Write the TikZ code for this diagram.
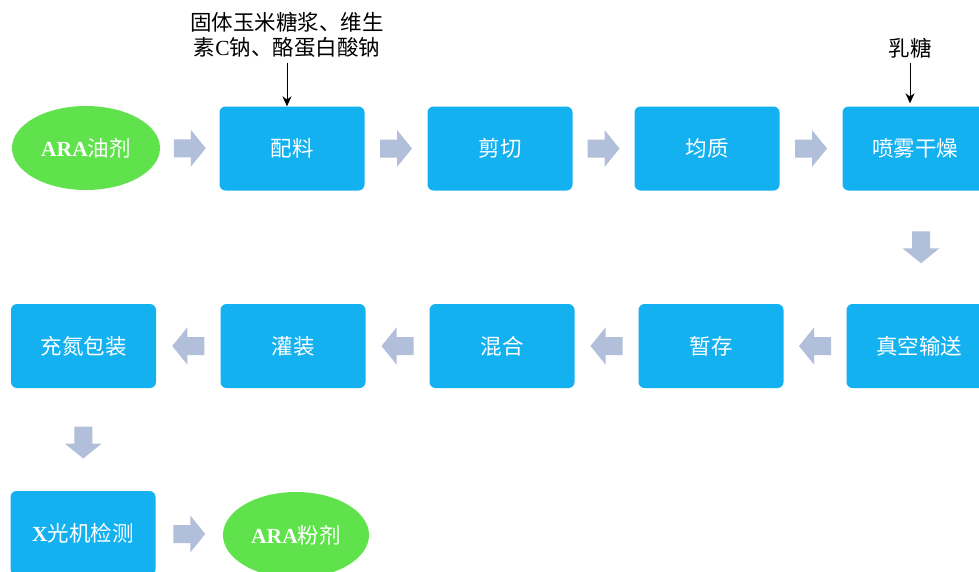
\documentclass[tikz,border=0pt]{standalone}
\usepackage{fontspec}
\setmainfont{Liberation Serif}
\newfontfamily\cjk{Noto Sans CJK SC}
\usetikzlibrary{calc,arrows.meta,shapes.geometric}
\definecolor{boxblue}{HTML}{14B1F1}
\definecolor{ovgreen}{HTML}{5FE24B}
\definecolor{arrgray}{HTML}{B1BFDA}
\tikzset{
  stepbox/.style={rectangle, rounded corners=6pt, fill=boxblue, minimum width=145pt, minimum height=84pt, inner sep=0pt, text=white, font=\cjk\fontsize{21.5}{25}\selectfont},
  oval/.style={ellipse, fill=ovgreen, inner sep=0pt, text=white, font=\cjk\fontsize{21.5}{25}\selectfont},
  note/.style={align=center, text=black, inner sep=0pt, font=\cjk\fontsize{21.5}{25}\selectfont},
  feed/.style={-{Stealth[length=10pt,width=9pt]}, line width=1pt, black},
  pics/barrow/.style={code={
    \fill[arrgray] (-16,-9) -- (1,-9) -- (1,-18.5) -- (16,0) -- (1,18.5) -- (1,9) -- (-16,9) -- cycle;
  }}
}
\begin{document}
\begin{tikzpicture}[x=1pt,y=-1pt]
\clip (0,0) rectangle (979,571);
\fill[white] (0,0) rectangle (979,571);
% row 1
\node[oval, minimum width=148pt, minimum height=84pt] (oil) at (86,148) {{\rmfamily\bfseries ARA}油剂};
\node[stepbox] (peiliao) at (292,148.5) {配料};
\node[stepbox] (jianqie) at (500,148.5) {剪切};
\node[stepbox] (junzhi) at (707,148.5) {均质};
\node[stepbox] (penwu) at (915,148.5) {喷雾干燥};
% row 2
\node[stepbox] (chongdan) at (83.5,346) {充氮包装};
\node[stepbox] (guanzhuang) at (293,346) {灌装};
\node[stepbox] (hunhe) at (502,346) {混合};
\node[stepbox] (zancun) at (711,346) {暂存};
\node[stepbox] (zhenkong) at (919,346) {真空输送};
% row 3
\node[stepbox] (xguang) at (83,533) {{\rmfamily\bfseries X}光机检测};
\node[oval, minimum width=146pt, minimum height=86pt] (powder) at (296,535) {{\rmfamily\bfseries ARA}粉剂};
% top notes
\node[note] (ingr) at (287,35) {固体玉米糖浆、维生\\素{\rmfamily C}钠、酪蛋白酸钠};
\node[note] (lactose) at (910,48) {乳糖};
\draw[feed] ($(ingr.south)+(0,5)$) -- (ingr.south |- peiliao.north);
\draw[feed] ($(lactose.south)+(0,5)$) -- ($(lactose.south |- penwu.north)+(0,-3)$);
% block arrows
\pic at ($(oil.east)!0.5!(peiliao.west)$) {barrow};
\pic at ($(peiliao.east)!0.5!(jianqie.west)$) {barrow};
\pic at ($(jianqie.east)!0.5!(junzhi.west)$) {barrow};
\pic at ($(junzhi.east)!0.5!(penwu.west)$) {barrow};
\pic[rotate=-90] at ($(penwu.south)!0.5!(zhenkong.north)+(4,0)$) {barrow};
\pic[rotate=180] at ($(zhenkong.west)!0.5!(zancun.east)$) {barrow};
\pic[rotate=180] at ($(zancun.west)!0.5!(hunhe.east)$) {barrow};
\pic[rotate=180] at ($(hunhe.west)!0.5!(guanzhuang.east)$) {barrow};
\pic[rotate=180] at ($(guanzhuang.west)!0.5!(chongdan.east)$) {barrow};
\pic[rotate=-90] at ($(chongdan.south)!0.5!(xguang.north)+(0,3)$) {barrow};
\pic at ($(xguang.east)!0.5!(powder.west)$) {barrow};
\end{tikzpicture}
\end{document}
